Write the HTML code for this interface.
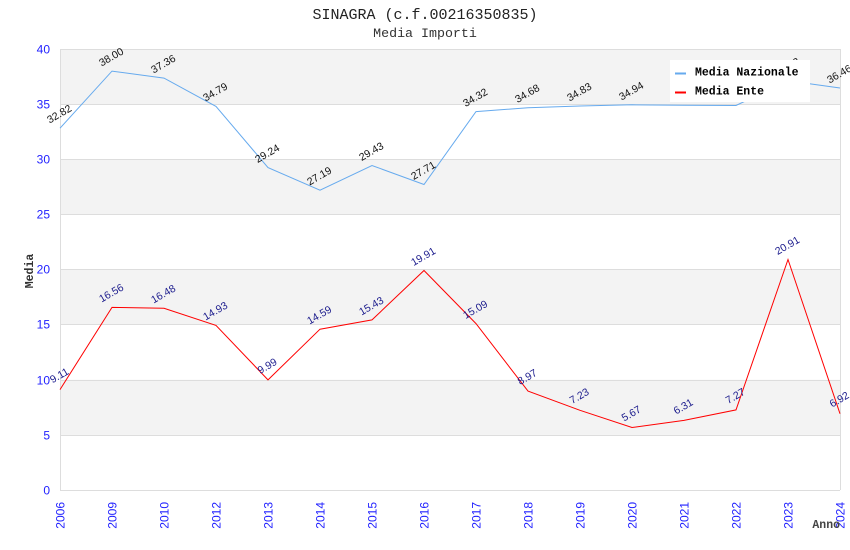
<!DOCTYPE html>
<html><head><meta charset="utf-8"><style>
html,body{margin:0;padding:0;background:#fff;}
svg{display:block;}
</style></head><body>
<svg width="850" height="550" viewBox="0 0 850 550" xmlns="http://www.w3.org/2000/svg">
<rect width="850" height="550" fill="#fff"/>
<!-- bands -->
<rect x="60" y="49" width="780" height="55.1" fill="#f3f3f3"/>
<rect x="60" y="159.25" width="780" height="55.1" fill="#f3f3f3"/>
<rect x="60" y="269.5" width="780" height="55.1" fill="#f3f3f3"/>
<rect x="60" y="379.75" width="780" height="55.1" fill="#f3f3f3"/>
<!-- gridlines -->
<g stroke="#dddddd" stroke-width="1">
<line x1="60" y1="49.5" x2="840" y2="49.5"/>
<line x1="60" y1="104.5" x2="840" y2="104.5"/>
<line x1="60" y1="159.5" x2="840" y2="159.5"/>
<line x1="60" y1="214.5" x2="840" y2="214.5"/>
<line x1="60" y1="269.5" x2="840" y2="269.5"/>
<line x1="60" y1="324.5" x2="840" y2="324.5"/>
<line x1="60" y1="380.5" x2="840" y2="380.5"/>
<line x1="60" y1="435.5" x2="840" y2="435.5"/>
<line x1="60" y1="490.5" x2="840" y2="490.5"/>
<line x1="60.5" y1="49" x2="60.5" y2="490"/>
<line x1="840.5" y1="49" x2="840.5" y2="490"/>
</g>
<!-- y tick labels -->
<g font-family="Liberation Sans, sans-serif" font-size="12" fill="#1f1fff" text-anchor="end">
<text x="50" y="53.5">40</text>
<text x="50" y="108.5">35</text>
<text x="50" y="163.5">30</text>
<text x="50" y="218.5">25</text>
<text x="50" y="273.5">20</text>
<text x="50" y="328.5">15</text>
<text x="50" y="384.5">10</text>
<text x="50" y="439.5">5</text>
<text x="50" y="494.5">0</text>
</g>
<!-- x tick labels -->
<g font-family="Liberation Sans, sans-serif" font-size="12" fill="#1f1fff" text-anchor="end">
<text transform="translate(64.5,502) rotate(-90)">2006</text>
<text transform="translate(116.5,502) rotate(-90)">2009</text>
<text transform="translate(168.5,502) rotate(-90)">2010</text>
<text transform="translate(220.5,502) rotate(-90)">2012</text>
<text transform="translate(272.5,502) rotate(-90)">2013</text>
<text transform="translate(324.5,502) rotate(-90)">2014</text>
<text transform="translate(376.5,502) rotate(-90)">2015</text>
<text transform="translate(428.5,502) rotate(-90)">2016</text>
<text transform="translate(480.5,502) rotate(-90)">2017</text>
<text transform="translate(532.5,502) rotate(-90)">2018</text>
<text transform="translate(584.5,502) rotate(-90)">2019</text>
<text transform="translate(636.5,502) rotate(-90)">2020</text>
<text transform="translate(688.5,502) rotate(-90)">2021</text>
<text transform="translate(740.5,502) rotate(-90)">2022</text>
<text transform="translate(792.5,502) rotate(-90)">2023</text>
<text transform="translate(844.5,502) rotate(-90)">2024</text>
</g>
<!-- series -->
<polyline fill="none" stroke="#66aaee" stroke-width="1" points="60,128.2 112,71.1 164,78.1 216,106.4 268,167.6 320,190.2 372,165.5 424,184.5 476,111.6 528,107.7 580,106 632,104.8 684,105.2 736,105.5 788,80.8 840,88.0"/>
<polyline fill="none" stroke="#ff0000" stroke-width="1" points="60,389.6 112,307.4 164,308.3 216,325.4 268,379.9 320,329.2 372,319.9 424,270.5 476,323.6 528,391.1 580,410.3 632,427.5 684,420.4 736,409.9 788,259.5 840,413.7"/>
<!-- data labels nazionale -->
<g font-family="Liberation Sans, sans-serif" font-size="10.5" fill="#111" text-anchor="middle">
<text transform="translate(61,117) rotate(-30)">32.82</text>
<text transform="translate(113,60) rotate(-30)">38.00</text>
<text transform="translate(165,67) rotate(-30)">37.36</text>
<text transform="translate(217,95) rotate(-30)">34.79</text>
<text transform="translate(269,156.5) rotate(-30)">29.24</text>
<text transform="translate(321,179) rotate(-30)">27.19</text>
<text transform="translate(373,154.5) rotate(-30)">29.43</text>
<text transform="translate(425,173.5) rotate(-30)">27.71</text>
<text transform="translate(477,100.5) rotate(-30)">34.32</text>
<text transform="translate(529,96.5) rotate(-30)">34.68</text>
<text transform="translate(581,95) rotate(-30)">34.83</text>
<text transform="translate(633,94) rotate(-30)">34.94</text>
<text transform="translate(685,94) rotate(-30)">34.90</text>
<text transform="translate(737,94.5) rotate(-30)">34.88</text>
<text transform="translate(789,70) rotate(-30)">37.12</text>
<text transform="translate(841,77) rotate(-30)">36.46</text>
</g>
<!-- data labels ente -->
<g font-family="Liberation Sans, sans-serif" font-size="10.5" fill="#1a1a8c" text-anchor="middle">
<text transform="translate(61,378.5) rotate(-30)">9.11</text>
<text transform="translate(113,296) rotate(-30)">16.56</text>
<text transform="translate(165,297) rotate(-30)">16.48</text>
<text transform="translate(217,314) rotate(-30)">14.93</text>
<text transform="translate(269,369) rotate(-30)">9.99</text>
<text transform="translate(321,318) rotate(-30)">14.59</text>
<text transform="translate(373,309) rotate(-30)">15.43</text>
<text transform="translate(425,259.5) rotate(-30)">19.91</text>
<text transform="translate(477,312.5) rotate(-30)">15.09</text>
<text transform="translate(529,380) rotate(-30)">8.97</text>
<text transform="translate(581,399) rotate(-30)">7.23</text>
<text transform="translate(633,416.5) rotate(-30)">5.67</text>
<text transform="translate(685,409.5) rotate(-30)">6.31</text>
<text transform="translate(737,399) rotate(-30)">7.27</text>
<text transform="translate(789,248.5) rotate(-30)">20.91</text>
<text transform="translate(841,402.5) rotate(-30)">6.92</text>
</g>
<!-- legend -->
<rect x="670" y="60" width="140" height="42" fill="#fff"/>
<line x1="675" y1="73.5" x2="686" y2="73.5" stroke="#66aaee" stroke-width="2"/>
<line x1="675" y1="92.5" x2="686" y2="92.5" stroke="#ff0000" stroke-width="2"/>
<g font-family="Liberation Mono, monospace" font-size="11.5" font-weight="bold" fill="#000">
<text x="695" y="75.5">Media Nazionale</text>
<text x="695" y="94.5">Media Ente</text>
</g>
<!-- titles -->
<text x="425" y="19" text-anchor="middle" font-family="Liberation Mono, monospace" font-size="15" fill="#222">SINAGRA (c.f.00216350835)</text>
<text x="425" y="37" text-anchor="middle" font-family="Liberation Mono, monospace" font-size="13.3" fill="#333">Media Importi</text>
<!-- axis titles -->
<text transform="translate(33,271) rotate(-90)" text-anchor="middle" font-family="Liberation Mono, monospace" font-size="11.5" font-weight="bold" fill="#333">Media</text>
<text x="840" y="528" text-anchor="end" font-family="Liberation Mono, monospace" font-size="11.5" font-weight="bold" fill="#444">Anno</text>
</svg>
</body></html>
